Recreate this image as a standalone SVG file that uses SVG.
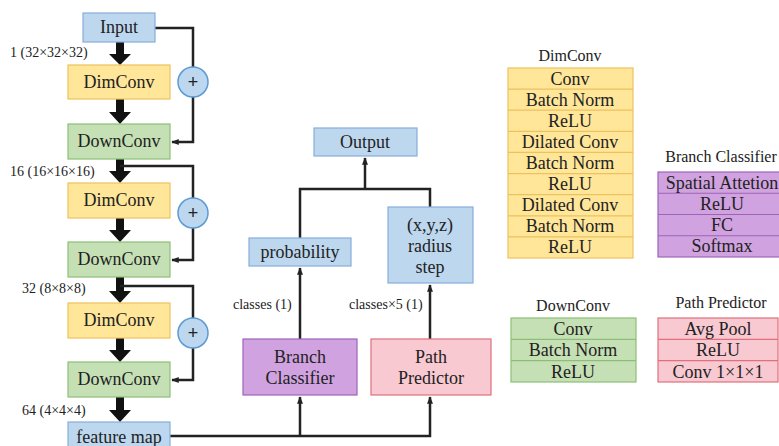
<svg xmlns="http://www.w3.org/2000/svg" width="779" height="446" viewBox="0 0 779 446">
<defs>
<style>
text{font-family:"Liberation Serif","Times New Roman",serif;fill:#222;}
.bt{font-size:18px;text-anchor:middle;}
.lb{font-size:14px;}
.ti{font-size:16px;text-anchor:middle;}
.blue{fill:#BDD7EE;stroke:#86AEDC;stroke-width:1.2;}
.yel{fill:#FFE699;stroke:#EDC15F;stroke-width:1.2;}
.grn{fill:#C5E0B4;stroke:#8DBE77;stroke-width:1.2;}
.pur{fill:#D0A3E0;stroke:#9E63B8;stroke-width:1.2;}
.pnk{fill:#F8C9D1;stroke:#E0707C;stroke-width:1.2;}
.ln{fill:none;stroke:#222;stroke-width:2.5;}
.big{fill:#111;}
.circ{fill:#BDD7EE;stroke:#5B9BD5;stroke-width:1.5;}
.plus{font-family:"Liberation Sans",Arial,sans-serif;font-size:18px;text-anchor:middle;fill:#222;}
</style>
<marker id="ah" viewBox="0 0 10 10" refX="9" refY="5" markerWidth="3" markerHeight="3" orient="auto" markerUnits="strokeWidth">
<path d="M0,1 L10,5 L0,9 z" fill="#222"/>
</marker>
</defs>
<rect width="779" height="446" fill="#fff"/>

<!-- Connectors -->
<g id="connectors">
<!-- thick arrows -->
<path class="big" d="M116,42 h8 v12 h7 l-11,11 l-11,-11 h7 z"/>
<path class="big" d="M116,99 h8 v13 h7 l-11,12 l-11,-12 h7 z"/>
<path class="big" d="M116,159 h8 v12 h7 l-11,12 l-11,-12 h7 z"/>
<path class="big" d="M116,218 h8 v12 h7 l-11,12 l-11,-12 h7 z"/>
<path class="big" d="M116,277 h8 v14 h7 l-11,12 l-11,-12 h7 z"/>
<path class="big" d="M116,338 h8 v12 h7 l-11,12 l-11,-12 h7 z"/>
<path class="big" d="M116,397 h8 v13 h7 l-11,12 l-11,-12 h7 z"/>
<!-- skip connections -->
<path class="ln" d="M155,28 H193 V142 H172" marker-end="url(#ah)"/>
<path class="ln" d="M120,166 H193 V260 H172" marker-end="url(#ah)"/>
<path class="ln" d="M120,286 H193 V380 H172" marker-end="url(#ah)"/>
<!-- head connectors -->
<path class="ln" d="M170,436 H430 V397" marker-end="url(#ah)"/>
<path class="ln" d="M300,436 V397" marker-end="url(#ah)"/>
<path class="ln" d="M300,339 V268" marker-end="url(#ah)"/>
<path class="ln" d="M430,339 V285" marker-end="url(#ah)"/>
<path class="ln" d="M300,238 V189 H430 V207"/>
<path class="ln" d="M365,189 V158" marker-end="url(#ah)"/>
</g>

<!-- plus circles -->
<g id="add1"><circle class="circ" cx="193" cy="82" r="15"/><text class="plus" x="193" y="88">+</text></g>
<g id="add2"><circle class="circ" cx="193" cy="213" r="15"/><text class="plus" x="193" y="219">+</text></g>
<g id="add3"><circle class="circ" cx="193" cy="333" r="15"/><text class="plus" x="193" y="339">+</text></g>

<!-- left column -->
<g id="input"><rect class="blue" x="83" y="13" width="72" height="29"/><text class="bt" x="119" y="33">Input</text></g>
<text class="lb" x="10" y="57">1 (32×32×32)</text>
<g id="dimconv1"><rect class="yel" x="68" y="65" width="102" height="34"/><text class="bt" x="119" y="88">DimConv</text></g>
<g id="downconv1"><rect class="grn" x="68" y="124" width="102" height="35"/><text class="bt" x="119" y="147">DownConv</text></g>
<text class="lb" x="10" y="176">16 (16×16×16)</text>
<g id="dimconv2"><rect class="yel" x="68" y="183" width="102" height="35"/><text class="bt" x="119" y="206">DimConv</text></g>
<g id="downconv2"><rect class="grn" x="68" y="242" width="102" height="35"/><text class="bt" x="119" y="265">DownConv</text></g>
<text class="lb" x="22" y="293">32 (8×8×8)</text>
<g id="dimconv3"><rect class="yel" x="68" y="303" width="102" height="35"/><text class="bt" x="119" y="326">DimConv</text></g>
<g id="downconv3"><rect class="grn" x="68" y="362" width="102" height="35"/><text class="bt" x="119" y="385">DownConv</text></g>
<text class="lb" x="22" y="415">64 (4×4×4)</text>
<g id="featuremap"><rect class="blue" x="68" y="422" width="102" height="30"/><text class="bt" x="119" y="443">feature map</text></g>

<!-- middle -->
<g id="output"><rect class="blue" x="314" y="128" width="103" height="28"/><text class="bt" x="365" y="148">Output</text></g>
<g id="probability"><rect class="blue" x="249" y="238" width="102" height="28"/><text class="bt" x="300" y="258">probability</text></g>
<g id="xyz"><rect class="blue" x="388" y="207" width="85" height="76"/>
<text class="bt" x="430" y="231">(x,y,z)</text><text class="bt" x="430" y="252">radius</text><text class="bt" x="430" y="273">step</text></g>
<text class="lb" x="233" y="309">classes (1)</text>
<text class="lb" x="349" y="309">classes×5 (1)</text>
<g id="branchclassifier"><rect class="pur" x="243" y="339" width="114" height="56"/>
<text class="bt" x="300" y="363">Branch</text><text class="bt" x="300" y="384">Classifier</text></g>
<g id="pathpredictor"><rect class="pnk" x="371" y="339" width="120" height="56"/>
<text class="bt" x="431" y="363">Path</text><text class="bt" x="431" y="384">Predictor</text></g>

<!-- right legend tables -->
<g id="dimconv-table">
<text class="ti" x="570" y="61">DimConv</text>
<rect class="yel" x="508" y="68" width="125" height="190"/>
<path d="M508,89.1H633M508,110.2H633M508,131.3H633M508,152.4H633M508,173.6H633M508,194.7H633M508,215.8H633M508,236.9H633" stroke="#EDC15F" stroke-width="1.2"/>
<text class="bt" x="570" y="84.6">Conv</text>
<text class="bt" x="570" y="105.7">Batch Norm</text>
<text class="bt" x="570" y="126.8">ReLU</text>
<text class="bt" x="570" y="147.9">Dilated Conv</text>
<text class="bt" x="570" y="169">Batch Norm</text>
<text class="bt" x="570" y="190.1">ReLU</text>
<text class="bt" x="570" y="211.2">Dilated Conv</text>
<text class="bt" x="570" y="232.3">Batch Norm</text>
<text class="bt" x="570" y="253.4">ReLU</text>
</g>
<g id="branch-table">
<text class="ti" x="721" y="162">Branch Classifier</text>
<rect class="pur" x="658" y="172" width="130" height="85"/>
<path d="M658,193.25H788M658,214.5H788M658,235.75H788" stroke="#9E63B8" stroke-width="1.2"/>
<text class="bt" x="722" y="188.6">Spatial Attetion</text>
<text class="bt" x="722" y="209.9">ReLU</text>
<text class="bt" x="722" y="231.1">FC</text>
<text class="bt" x="722" y="252.4">Softmax</text>
</g>
<g id="downconv-table">
<text class="ti" x="573" y="311">DownConv</text>
<rect class="grn" x="511" y="318" width="125" height="64"/>
<path d="M511,339.3H636M511,360.7H636" stroke="#8DBE77" stroke-width="1.2"/>
<text class="bt" x="573" y="335">Conv</text>
<text class="bt" x="573" y="356.3">Batch Norm</text>
<text class="bt" x="573" y="377.6">ReLU</text>
</g>
<g id="path-table">
<text class="ti" x="721" y="308">Path Predictor</text>
<rect class="pnk" x="658" y="318" width="120" height="64"/>
<path d="M658,339.3H778M658,360.7H778" stroke="#E0707C" stroke-width="1.2"/>
<text class="bt" x="718" y="335">Avg Pool</text>
<text class="bt" x="718" y="356.3">ReLU</text>
<text class="bt" x="718" y="377.6">Conv 1×1×1</text>
</g>
</svg>
